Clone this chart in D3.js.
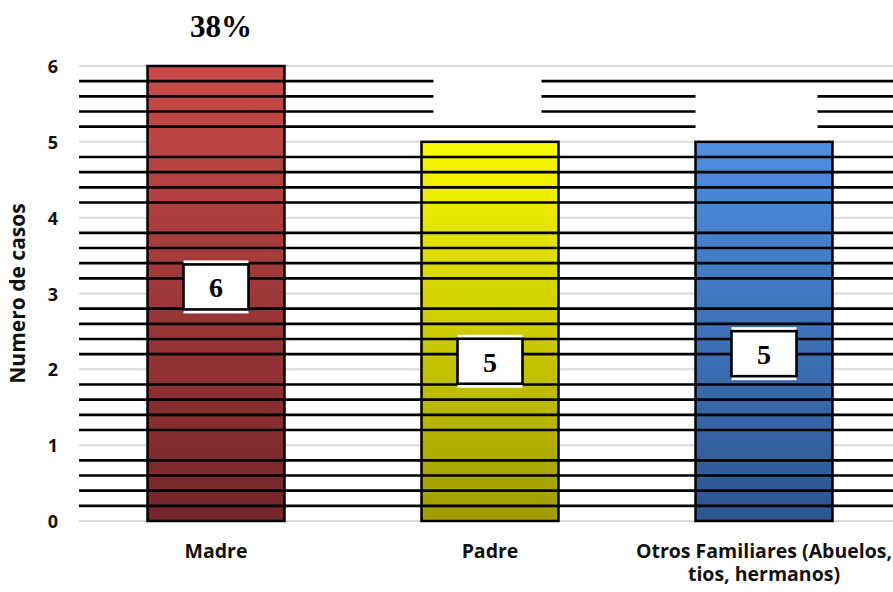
<!DOCTYPE html>
<html>
<head>
<meta charset="utf-8">
<script src="https://cdn.jsdelivr.net/npm/d3@7"></script>
<style>
  body { margin: 0; background: #fff; }
  svg { display: block; }
</style>
</head>
<body>
<svg id="chart" width="893" height="592"></svg>
<script>
// data
const categories = ["Madre", "Padre", "Otros Familiares (Abuelos, tios, hermanos)"]
const catLines   = [["Madre"], ["Padre"], ["Otros Familiares (Abuelos,", "tios, hermanos)"]]
const values     = [6, 5, 5]
const percentLabels = ["38%", "", ""]
const labelAt    = [3.08, 2.1, 2.2]   // where the value box sits on each bar
const yTicks     = [0, 1, 2, 3, 4, 5, 6]

const colorsTop    = ["#c94b47", "#fafa00", "#4f8ee0"]
const colorsBottom = ["#73252a", "#9f9b00", "#2c5590"]

const W = 893, H = 592
const plotLeft = 79, plotRight = 901, plotTop = 66, plotBottom = 521
const sans = "'Open Sans', 'DejaVu Sans', sans-serif"

const svg = d3.select("#chart")

const x = d3.scaleBand().domain(categories).range([plotLeft, plotRight]).paddingInner(0.5).paddingOuter(0.25)
const y = d3.scaleLinear().domain([0, 6]).range([plotBottom, plotTop])

// gradients
const defs = svg.append("defs")
categories.forEach((c, i) => {
  const g = defs.append("linearGradient").attr("id", "grad" + i)
    .attr("x1", 0).attr("y1", 0).attr("x2", 0).attr("y2", 1)
  g.append("stop").attr("offset", "0%").attr("stop-color", colorsTop[i])
  g.append("stop").attr("offset", "100%").attr("stop-color", colorsBottom[i])
})

// gray gridlines
svg.append("g").selectAll("line").data(yTicks).join("line")
  .attr("x1", plotLeft).attr("x2", W)
  .attr("y1", d => y(d)).attr("y2", d => y(d))
  .attr("stroke", "#d9d9d9").attr("stroke-width", 2)

// bars
svg.append("g").selectAll("rect").data(values).join("rect")
  .attr("x", (d, i) => x(categories[i]))
  .attr("y", d => y(d))
  .attr("width", x.bandwidth())
  .attr("height", d => y(0) - y(d))
  .attr("fill", (d, i) => "url(#grad" + i + ")")
  .attr("stroke", "#000").attr("stroke-width", 2.5)

// the black rule lines, every 0.2 between the integer ticks
const rules = d3.range(1, 30).map(k => k / 5).filter(v => Math.abs(v - Math.round(v)) > 1e-6)
const xp = x(categories[1]), xo = x(categories[2])
function segments(v) {
  if (v > 5.7) return [[plotLeft, xp + 12], [xp + 120, W]]
  if (v > 5.3) return [[plotLeft, xp + 12], [xp + 120, xo], [xo + 122, W]]
  if (v > 5.1) return [[plotLeft, xo], [xo + 122, W]]
  return [[plotLeft, W]]
}
const segs = []
rules.forEach(v => segments(v).forEach(s => segs.push({ v: v, x1: s[0], x2: s[1] })))
svg.append("g").selectAll("line").data(segs).join("line")
  .attr("x1", d => d.x1).attr("x2", d => d.x2)
  .attr("y1", d => y(d.v)).attr("y2", d => y(d.v))
  .attr("stroke", "#000").attr("stroke-width", 2.6)

// value boxes
const bw = 65
const box = svg.append("g").selectAll("g").data(values).join("g")
  .attr("transform", (d, i) => `translate(${x(categories[i]) + x.bandwidth() / 2},${y(labelAt[i])})`)
box.append("rect")
  .attr("x", -bw / 2).attr("y", -27).attr("width", bw).attr("height", 53)
  .attr("fill", "#fff")
box.append("rect")
  .attr("x", -bw / 2).attr("y", -23).attr("width", bw).attr("height", 45)
  .attr("fill", "none").attr("stroke", "#000").attr("stroke-width", 2.6)
box.append("text")
  .attr("text-anchor", "middle").attr("y", 10)
  .attr("font-family", "Liberation Serif").attr("font-weight", "bold").attr("font-size", 28)
  .text(d => d)

// percentage on top
svg.append("g").selectAll("text").data(percentLabels).join("text")
  .attr("x", (d, i) => x(categories[i]) + x.bandwidth() / 2 + 5)
  .attr("y", 37)
  .attr("text-anchor", "middle")
  .attr("font-family", "Liberation Serif").attr("font-weight", "bold").attr("font-size", 31)
  .text(d => d)

// y tick labels
svg.append("g").selectAll("text").data(yTicks).join("text")
  .attr("x", 58).attr("y", d => y(d) + 7)
  .attr("text-anchor", "end")
  .attr("font-family", sans).attr("font-weight", 700).attr("font-size", 18)
  .attr("fill", "#111")
  .text(d => d)

svg.append("text")
  .attr("transform", `translate(25,${(plotTop + plotBottom) / 2}) rotate(-90)`)
  .attr("text-anchor", "middle")
  .attr("font-family", sans).attr("font-weight", 700).attr("font-size", 21)
  .attr("fill", "#111")
  .text("Numero de casos")

// category labels, one text per line
const xlData = []
catLines.forEach((lines, i) => lines.forEach((t, j) => xlData.push({ t: t, i: i, j: j })))
svg.append("g").selectAll("text").data(xlData).join("text")
  .attr("x", d => x(categories[d.i]) + x.bandwidth() / 2)
  .attr("y", d => 558 + d.j * 23)
  .attr("text-anchor", "middle")
  .attr("font-family", sans).attr("font-weight", 700).attr("font-size", 19.5)
  .attr("fill", "#111")
  .text(d => d.t)
</script>
</body>
</html>
